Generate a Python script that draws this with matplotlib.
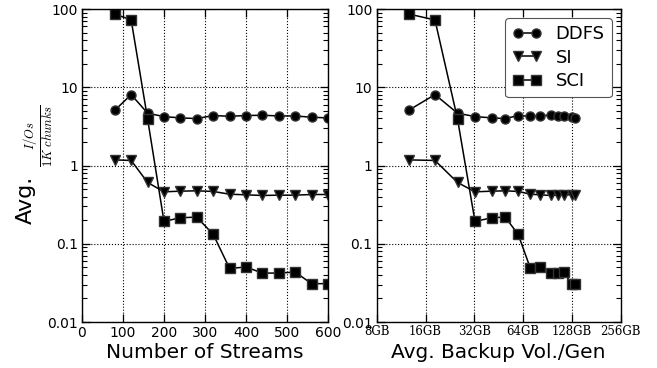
import matplotlib
matplotlib.use('Agg')
import matplotlib.pyplot as plt
from matplotlib.ticker import FixedLocator, NullLocator, FixedFormatter, LogLocator

plt.rcParams['mathtext.fontset'] = 'cm'

streams = [80, 120, 160, 200, 240, 280, 320, 360, 400, 440, 480, 520, 560, 600]
volume_gb = [12.6, 18.3, 25.2, 32.3, 41.1, 49.6, 59.6, 71.0, 81.8, 94.6,
             105.5, 113.7, 127.3, 133.5]

ddfs = [5.08, 8.06, 4.66, 4.22, 4.06, 3.98, 4.35, 4.26, 4.35, 4.39,
        4.30, 4.30, 4.14, 4.06]
si = [1.18, 1.16, 0.607, 0.461, 0.47, 0.475, 0.466, 0.43, 0.422, 0.414,
      0.418, 0.418, 0.426, 0.426]
sci = [86.4, 72.4, 3.94, 0.193, 0.215, 0.219, 0.132, 0.0484, 0.0504, 0.0422,
       0.0422, 0.0435, 0.0309, 0.0309]

series = [('DDFS', ddfs, 'o'), ('SI', si, 'v'), ('SCI', sci, 's')]

y_ticks = [0.01, 0.1, 1, 10, 100]
y_labels = ['0.01', '0.1', '1', '10', '100']
gb_ticks = [8, 16, 32, 64, 128, 256]
gb_labels = ['8GB', '16GB', '32GB', '64GB', '128GB', '256GB']

fig = plt.figure(figsize=(6.57, 3.68), dpi=100)
ax1 = fig.add_axes([0.1248, 0.125, 0.3744, 0.8505])
ax2 = fig.add_axes([0.5734, 0.125, 0.3714, 0.8505])


def style(ax):
    ax.set_yscale('log')
    ax.set_ylim(0.01, 100)
    ax.yaxis.set_major_locator(FixedLocator(y_ticks))
    ax.yaxis.set_major_formatter(FixedFormatter(y_labels))
    ax.yaxis.set_minor_locator(LogLocator(base=10, subs=range(2, 10), numticks=20))
    ax.tick_params(which='both', direction='in', top=True, right=True)
    ax.tick_params(which='major', length=6, width=0.9, labelsize=10, pad=3)
    ax.tick_params(which='minor', length=3.5, width=0.8)
    ax.grid(True, which='major', color='black', linestyle=':', linewidth=0.8)
    for s in ax.spines.values():
        s.set_linewidth(1.0)


for ax, xs in [(ax1, streams), (ax2, volume_gb)]:
    for name, vals, mk in series:
        ax.plot(xs, vals, color='black', marker=mk, markersize=6.5,
                markeredgecolor='#333333', linewidth=1.1, label=name)
    style(ax)

ax1.set_xlim(0, 600)
ax1.set_xticks([0, 100, 200, 300, 400, 500, 600])
ax1.xaxis.set_minor_locator(NullLocator())
ax1.set_xlabel('Number of Streams', fontsize=14.5, labelpad=2)

# y label: sans "Avg." plus a smaller serif math fraction
fig.text(26 / 657, 1 - 200 / 368, 'Avg.', rotation=90, fontsize=16,
         ha='center', va='center')
fig.text(40 / 657, 1 - 136 / 368, r'$\frac{I/Os}{1K\ chunks}$', rotation=90,
         fontsize=13, ha='center', va='center')

ax2.set_xscale('log', base=2)
ax2.set_xlim(8, 256)
ax2.xaxis.set_major_locator(FixedLocator(gb_ticks))
ax2.xaxis.set_major_formatter(FixedFormatter(gb_labels))
ax2.xaxis.set_minor_locator(NullLocator())
for lbl in ax2.get_xticklabels():
    lbl.set_fontfamily('DejaVu Serif')
    lbl.set_fontsize(8.5)
ax2.tick_params(axis='x', pad=2)
ax2.set_xlabel('Avg. Backup Vol./Gen', fontsize=14.5, labelpad=4)

leg = ax2.legend(loc='upper right', numpoints=2, fontsize=13,
                 fancybox=True, framealpha=1.0, edgecolor='#555555',
                 handlelength=1.6, borderpad=0.4, labelspacing=0.3,
                 borderaxespad=0.5)
leg.get_frame().set_linewidth(0.8)

plt.savefig('out.png', dpi=100)
